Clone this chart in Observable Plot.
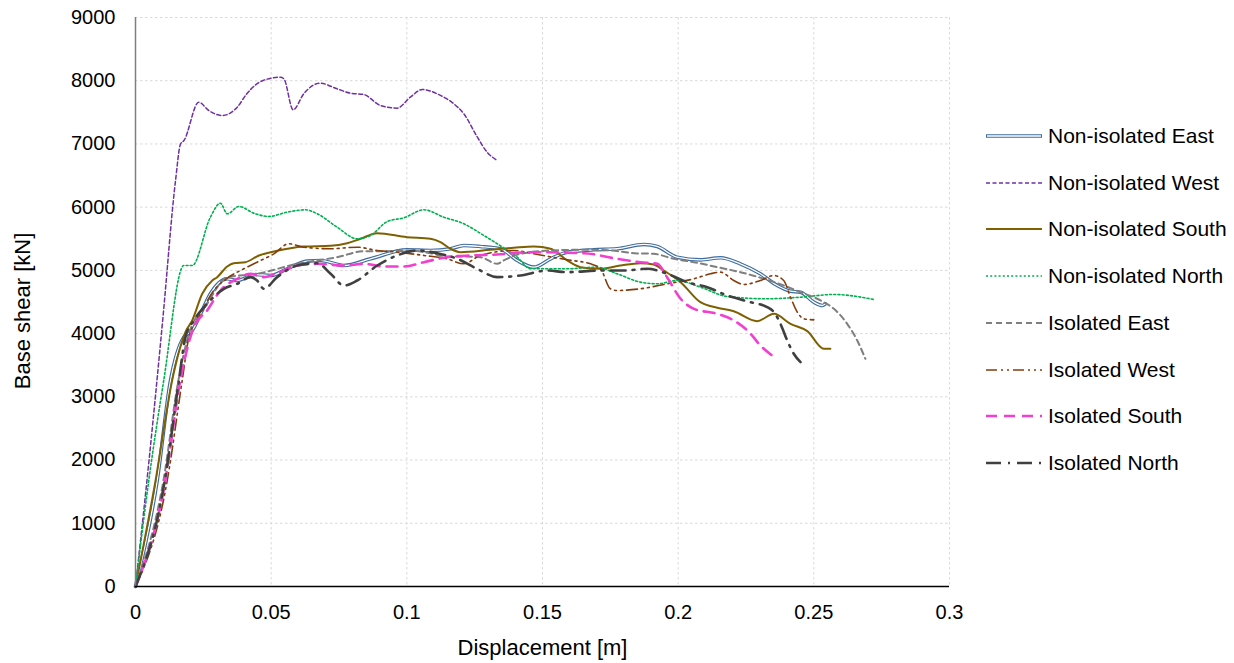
<!DOCTYPE html>
<html><head><meta charset="utf-8">
<script src="https://cdn.jsdelivr.net/npm/d3@7"></script>
<script src="https://cdn.jsdelivr.net/npm/@observablehq/plot@0.6"></script>
<style>
body{margin:0;background:#fff;font-family:"Liberation Sans",Arial,sans-serif;}
#wrap{position:relative;width:1234px;height:663px;overflow:hidden;}
#legend{position:absolute;left:0;top:0;}
.item{position:absolute;display:flex;align-items:center;white-space:nowrap;font-size:21px;color:#000;height:26px;}
.item svg{margin-right:5px;}
</style></head><body>
<div id="wrap"><div id="chart"></div><div id="legend"></div></div>
<script>
// ---- data (displacement [m], base shear [kN]) ----
const xTicks = [0, 0.05, 0.1, 0.15, 0.2, 0.25, 0.3];
const yTicks = [0, 1000, 2000, 3000, 4000, 5000, 6000, 7000, 8000, 9000];
const seriesNames = ["Non-isolated East","Non-isolated West","Non-isolated South","Non-isolated North","Isolated East","Isolated West","Isolated South","Isolated North"];

const niEast = [[0,0],[0.008,1677],[0.0129,3258],[0.0178,3944],[0.0209,4050],[0.024,4313],[0.0276,4630],[0.0338,4867],[0.0375,4840],[0.0412,4893],[0.0442,4935],[0.0498,4919],[0.0559,5025],[0.0633,5146],[0.0682,5157],[0.0768,5077],[0.0866,5183],[0.1001,5326],[0.1087,5315],[0.1161,5342],[0.121,5394],[0.1271,5378],[0.1345,5342],[0.1407,5157],[0.1468,5051],[0.153,5183],[0.1591,5288],[0.1689,5326],[0.1775,5342],[0.1873,5410],[0.1923,5378],[0.1996,5209],[0.2082,5167],[0.2156,5199],[0.2229,5104],[0.2303,4946],[0.2365,4761],[0.2414,4671],[0.2451,4655],[0.25,4497],[0.2531,4445],[0.2543,4471]];
const niWest = [[0,0],[0.005,2000],[0.010,4200],[0.0147,6400],[0.0166,7000],[0.0178,7050],[0.0233,7660],[0.027,7529],[0.032,7450],[0.0375,7582],[0.041,7793],[0.047,8004],[0.0534,8056],[0.0547,8030],[0.0581,7540],[0.062,7793],[0.068,7961],[0.0743,7872],[0.0792,7803],[0.0841,7782],[0.0903,7608],[0.0964,7566],[0.1013,7740],[0.1057,7861],[0.1124,7767],[0.1173,7635],[0.121,7477],[0.126,7107],[0.1296,6870],[0.1333,6739]];
const niSouth = [[0,0],[0.0074,1677],[0.0135,3258],[0.0184,4023],[0.0209,4208],[0.0246,4630],[0.0283,4840],[0.0301,4893],[0.0338,5062],[0.0362,5114],[0.0405,5130],[0.0455,5236],[0.0498,5288],[0.0559,5342],[0.062,5378],[0.0719,5389],[0.078,5430],[0.0829,5500],[0.0891,5589],[0.1001,5525],[0.1087,5500],[0.1124,5446],[0.1161,5342],[0.1198,5288],[0.1308,5326],[0.1394,5357],[0.1468,5378],[0.153,5342],[0.1591,5157],[0.164,5051],[0.1714,5025],[0.1787,5077],[0.1861,5114],[0.191,5093],[0.1947,4998],[0.2009,4814],[0.2082,4497],[0.2144,4408],[0.2205,4355],[0.2291,4197],[0.2353,4313],[0.2414,4155],[0.2476,4039],[0.2537,3760],[0.2561,3760]];
const niNorth = [[0,0],[0.0049,1677],[0.0104,3258],[0.0178,5077],[0.0209,5077],[0.0276,5841],[0.0313,6063],[0.0338,5895],[0.0381,6011],[0.0436,5905],[0.0491,5853],[0.0559,5921],[0.0627,5958],[0.067,5895],[0.0743,5684],[0.0817,5500],[0.0866,5552],[0.0928,5773],[0.0989,5832],[0.1063,5958],[0.1136,5842],[0.121,5737],[0.1284,5552],[0.1333,5421],[0.1407,5209],[0.1456,5025],[0.1591,5025],[0.17,5051],[0.1775,4946],[0.1861,4814],[0.1923,4788],[0.1996,4840],[0.2082,4735],[0.2181,4587],[0.2328,4551],[0.2451,4576],[0.2574,4619],[0.2721,4540]];
const isoEast = [[0,0],[0.0103,1677],[0.0158,3258],[0.0197,3997],[0.0264,4472],[0.0338,4893],[0.0448,4946],[0.0596,5104],[0.067,5157],[0.0743,5209],[0.0841,5304],[0.0915,5304],[0.1001,5315],[0.1087,5272],[0.1149,5220],[0.121,5220],[0.1271,5209],[0.1333,5104],[0.1357,5157],[0.1419,5262],[0.153,5315],[0.1652,5326],[0.175,5315],[0.1837,5272],[0.191,5262],[0.1984,5183],[0.2058,5130],[0.2144,5051],[0.2229,4972],[0.2316,4867],[0.2389,4761],[0.2451,4655],[0.2525,4524],[0.2574,4392],[0.2623,4155],[0.266,3891],[0.269,3602]];
const isoWest = [[0,0],[0.0117,1677],[0.0172,3258],[0.0197,3944],[0.0227,4208],[0.0289,4682],[0.0344,4893],[0.0399,5025],[0.0448,5130],[0.051,5262],[0.0565,5421],[0.062,5367],[0.0719,5342],[0.0817,5367],[0.0891,5315],[0.0964,5288],[0.1063,5236],[0.1149,5183],[0.121,5104],[0.1271,5236],[0.1394,5315],[0.1468,5262],[0.1591,5167],[0.1677,5104],[0.1714,5025],[0.175,4709],[0.1775,4682],[0.1861,4709],[0.196,4788],[0.2058,4867],[0.2119,4946],[0.2156,4972],[0.2205,4840],[0.2242,4777],[0.2303,4840],[0.2353,4919],[0.2389,4840],[0.2414,4576],[0.2439,4340],[0.2463,4234],[0.25,4218]];
const isoSouth = [[0,0],[0.011,1677],[0.0165,3258],[0.0215,4102],[0.0264,4366],[0.0313,4682],[0.0375,4867],[0.0424,4946],[0.0473,4893],[0.0522,4956],[0.0596,5077],[0.067,5104],[0.0768,5077],[0.0841,5104],[0.0915,5062],[0.0989,5062],[0.1063,5130],[0.1149,5209],[0.1235,5236],[0.1333,5251],[0.1456,5288],[0.1652,5272],[0.1775,5183],[0.1861,5130],[0.1923,5104],[0.1959,4893],[0.2009,4551],[0.2058,4392],[0.2144,4313],[0.2205,4208],[0.2267,3997],[0.2303,3812],[0.2346,3654]];
const isoNorth = [[0,0],[0.0108,1677],[0.016,3258],[0.0184,3944],[0.0215,4208],[0.0264,4472],[0.0326,4709],[0.0375,4788],[0.0424,4893],[0.0448,4840],[0.0473,4709],[0.0522,4893],[0.0596,5077],[0.067,5114],[0.0719,4946],[0.0768,4761],[0.0817,4840],[0.0891,5077],[0.0964,5236],[0.1038,5315],[0.1112,5272],[0.1186,5183],[0.1259,5025],[0.1333,4893],[0.1419,4919],[0.1517,4998],[0.1591,4972],[0.1714,4998],[0.18,4998],[0.1886,5025],[0.196,4946],[0.2033,4814],[0.2107,4735],[0.2181,4603],[0.2267,4497],[0.2328,4419],[0.2353,4340],[0.2377,4155],[0.2402,3891],[0.2426,3681],[0.2451,3548]];

// ---- styles ----
const seriesData = [niEast, niWest, niSouth, niNorth, isoEast, isoWest, isoSouth, isoNorth];
const styles = [
  {stroke:"#3E6C9F", width:3.6, dash:null, inner:1.3},
  {stroke:"#7030A0", width:1.5, dash:"4,2.5"},
  {stroke:"#7F6000", width:2, dash:null},
  {stroke:"#00B050", width:1.6, dash:"2,2.2"},
  {stroke:"#7F7F7F", width:2, dash:"6,4"},
  {stroke:"#843C0C", width:1.6, dash:"11,4,2,4,2,4"},
  {stroke:"#F23FD0", width:2.6, dash:"11,7"},
  {stroke:"#404040", width:2.6, dash:"15,7,2,7"}
];

const tables = seriesData.map((arr, i) => arr.map(([d, v]) => ({d, v, s: seriesNames[i]})));

const lineMarks = [];
tables.forEach((t, i) => {
  const st = styles[i];
  lineMarks.push(Plot.line(t, {x:"d", y:"v", stroke:st.stroke, strokeWidth:st.width, strokeDasharray:st.dash || undefined, curve:"monotone-x", strokeLinejoin:"round"}));
  if (st.inner) lineMarks.push(Plot.line(t, {x:"d", y:"v", stroke:"#fff", strokeWidth:st.inner, curve:"monotone-x"}));
});
const gridStyle = {stroke:"#d9d9d9", strokeOpacity:1, strokeWidth:1, strokeDasharray:"2.5,2.5"};

const chart = Plot.plot({
  width:1234, height:663,
  marginLeft:135, marginRight:285, marginTop:17, marginBottom:77,
  style:{fontFamily:"'Liberation Sans', Arial, sans-serif", fontSize:"20px", color:"#000", background:"#fff"},
  x:{domain:[0,0.3]},
  y:{domain:[0,9000]},
  marks:[
    Plot.gridX(xTicks.slice(1), gridStyle),
    Plot.gridY(yTicks.slice(1), gridStyle),
    ...lineMarks,
    Plot.ruleX([0], {stroke:"#7f7f7f", strokeWidth:1.5}),
    Plot.ruleY([0], {stroke:"#000", strokeWidth:1.5}),
    Plot.axisX(xTicks, {tickSize:0, tickPadding:18, tickFormat:d => String(+d.toFixed(2)), label:null, fontSize:20}),
    Plot.axisY(yTicks, {tickSize:0, tickPadding:20, tickFormat:d => String(d), label:null, fontSize:20}),
    Plot.text(["Displacement [m]"], {frameAnchor:"bottom", dy:61, lineAnchor:"middle", fontSize:22}),
    Plot.text(["Base shear [kN]"], {frameAnchor:"left", textAnchor:"middle", rotate:-90, dx:-113, dy:9, lineAnchor:"middle", fontSize:22})
  ]
});
document.getElementById("chart").appendChild(chart);

// ---- legend ----
const legend = document.getElementById("legend");
const legendTop = 136, legendStep = 46.7;
seriesNames.forEach((name, i) => {
  const st = styles[i];
  const item = document.createElement("div");
  item.className = "item";
  item.style.left = "986px";
  item.style.top = (legendTop + i * legendStep - 13) + "px";
  const ns = "http://www.w3.org/2000/svg";
  const svg = document.createElementNS(ns, "svg");
  svg.setAttribute("width", 57); svg.setAttribute("height", 10);
  const ln = document.createElementNS(ns, "line");
  ln.setAttribute("x1", 0); ln.setAttribute("x2", 56); ln.setAttribute("y1", 5); ln.setAttribute("y2", 5);
  ln.setAttribute("stroke", st.stroke); ln.setAttribute("stroke-width", st.width);
  if (st.dash) ln.setAttribute("stroke-dasharray", st.dash);
  svg.appendChild(ln);
  if (st.inner) {
    const l2 = ln.cloneNode(); l2.setAttribute("stroke", "#fff"); l2.setAttribute("stroke-width", st.inner);
    l2.setAttribute("x1", 1); l2.setAttribute("x2", 55);
    svg.appendChild(l2);
  }
  item.appendChild(svg);
  const span = document.createElement("span");
  span.textContent = name;
  item.appendChild(span);
  legend.appendChild(item);
});
</script>
</body></html>
